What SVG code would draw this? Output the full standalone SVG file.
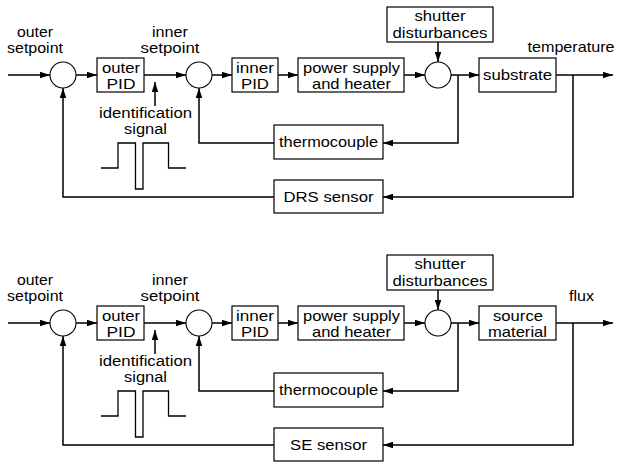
<svg xmlns="http://www.w3.org/2000/svg" width="618" height="462" viewBox="0 0 618 462">
<style>
text{font-family:"Liberation Sans",Arial,Helvetica,sans-serif;font-size:15px;fill:#000;text-anchor:middle}
.tight{font-size:14px}
.box{fill:#fff;stroke:#000;stroke-width:1.2}
.sum{fill:#fff;stroke:#000;stroke-width:1.1}
.ln{fill:none;stroke:#000;stroke-width:1.5}
.ar{fill:none;stroke:#000;stroke-width:1.5;marker-end:url(#ah)}
.pulse{fill:none;stroke:#000;stroke-width:1.3}
</style>
<defs>
<marker id="ah" markerUnits="userSpaceOnUse" markerWidth="10" markerHeight="7" refX="10" refY="3.25" orient="auto">
<path d="M0,0 L10,3.25 L0,6.5 z" fill="#000"/>
</marker>
</defs>
<rect width="618" height="462" fill="#fff"/>

<!-- ===== Top diagram ===== -->
<g id="top">
<g id="t-connectors">
<path class="ar" d="M8,75 H50"/>
<path class="ar" d="M76,75 H97"/>
<path class="ar" d="M144,75 H186"/>
<path class="ar" d="M212,75 H232"/>
<path class="ar" d="M278,75 H298"/>
<path class="ar" d="M404,75 H425"/>
<path class="ar" d="M451,75 H479"/>
<path class="ar" d="M556,75 H613"/>
<path class="ar" d="M438,42 V62"/>
<path class="ar" d="M458,75 V143 H383"/>
<path class="ar" d="M573,75 V197 H383"/>
<path class="ar" d="M274,143 H199 V88"/>
<path class="ar" d="M274,197 H63 V88"/>
<path class="ar" d="M155,106 V82"/>
</g>
<g id="t-outer-setpoint-label">
<text x="35" y="37" textLength="36" lengthAdjust="spacingAndGlyphs">outer</text>
<text x="35" y="53" textLength="56" lengthAdjust="spacingAndGlyphs">setpoint</text>
</g>
<g id="t-sum1"><circle class="sum" cx="63" cy="75" r="13"/></g>
<g id="t-outer-pid">
<rect class="box" x="97" y="58" width="47" height="34"/>
<text x="121" y="73" textLength="38" lengthAdjust="spacingAndGlyphs">outer</text>
<text x="121" y="89" textLength="29" lengthAdjust="spacingAndGlyphs">PID</text>
</g>
<g id="t-inner-setpoint-label">
<text x="170" y="37" textLength="36" lengthAdjust="spacingAndGlyphs">inner</text>
<text x="170" y="53" textLength="59" lengthAdjust="spacingAndGlyphs">setpoint</text>
</g>
<g id="t-sum2"><circle class="sum" cx="199" cy="75" r="13"/></g>
<g id="t-inner-pid">
<rect class="box" x="232" y="58" width="46" height="34"/>
<text x="255" y="73" textLength="38" lengthAdjust="spacingAndGlyphs">inner</text>
<text x="255" y="89" textLength="28" lengthAdjust="spacingAndGlyphs">PID</text>
</g>
<g id="t-power">
<rect class="box" x="298" y="58" width="106" height="34"/>
<text x="351.5" y="73" textLength="97" lengthAdjust="spacingAndGlyphs">power supply</text>
<text x="351.5" y="89" textLength="79" lengthAdjust="spacingAndGlyphs">and heater</text>
</g>
<g id="t-shutter">
<rect class="box" x="387" y="7" width="106" height="35"/>
<text class="tight" x="440" y="21" textLength="51" lengthAdjust="spacingAndGlyphs">shutter</text>
<text class="tight" x="440" y="37.5" textLength="95" lengthAdjust="spacingAndGlyphs">disturbances</text>
</g>
<g id="t-sum3"><circle class="sum" cx="438" cy="75" r="13"/></g>
<g id="t-substrate">
<rect class="box" x="479" y="58" width="77" height="34"/>
<text x="517.5" y="80" textLength="69" lengthAdjust="spacingAndGlyphs">substrate</text>
</g>
<g id="t-output-label">
<text x="571" y="52" textLength="87" lengthAdjust="spacingAndGlyphs">temperature</text>
</g>
<g id="t-thermocouple">
<rect class="box" x="274" y="125" width="109" height="34"/>
<text x="328.5" y="147" textLength="99" lengthAdjust="spacingAndGlyphs">thermocouple</text>
</g>
<g id="t-drs">
<rect class="box" x="274" y="180" width="109" height="33"/>
<text x="328.5" y="202" textLength="90" lengthAdjust="spacingAndGlyphs">DRS sensor</text>
</g>
<g id="t-identification">
<text class="tight" x="145.5" y="117.5" textLength="93" lengthAdjust="spacingAndGlyphs">identification</text>
<text class="tight" x="145.5" y="133.5" textLength="43" lengthAdjust="spacingAndGlyphs">signal</text>
<path class="pulse" d="M101,168 H118 V143 H135.5 V189 H143 V143 H168.5 V168 H186"/>
</g>
</g>

<!-- ===== Bottom diagram ===== -->
<g id="bottom" transform="translate(0,248)">
<g id="b-connectors">
<path class="ar" d="M8,75 H50"/>
<path class="ar" d="M76,75 H97"/>
<path class="ar" d="M144,75 H186"/>
<path class="ar" d="M212,75 H232"/>
<path class="ar" d="M278,75 H298"/>
<path class="ar" d="M404,75 H425"/>
<path class="ar" d="M451,75 H479"/>
<path class="ar" d="M556,75 H613"/>
<path class="ar" d="M438,42 V62"/>
<path class="ar" d="M458,75 V143 H383"/>
<path class="ar" d="M573,75 V197 H383"/>
<path class="ar" d="M274,143 H199 V88"/>
<path class="ar" d="M274,197 H63 V88"/>
<path class="ar" d="M155,106 V82"/>
</g>
<g id="b-outer-setpoint-label">
<text x="35" y="37" textLength="36" lengthAdjust="spacingAndGlyphs">outer</text>
<text x="35" y="53" textLength="56" lengthAdjust="spacingAndGlyphs">setpoint</text>
</g>
<g id="b-sum1"><circle class="sum" cx="63" cy="75" r="13"/></g>
<g id="b-outer-pid">
<rect class="box" x="97" y="58" width="47" height="34"/>
<text x="121" y="73" textLength="38" lengthAdjust="spacingAndGlyphs">outer</text>
<text x="121" y="89" textLength="29" lengthAdjust="spacingAndGlyphs">PID</text>
</g>
<g id="b-inner-setpoint-label">
<text x="170" y="37" textLength="36" lengthAdjust="spacingAndGlyphs">inner</text>
<text x="170" y="53" textLength="59" lengthAdjust="spacingAndGlyphs">setpoint</text>
</g>
<g id="b-sum2"><circle class="sum" cx="199" cy="75" r="13"/></g>
<g id="b-inner-pid">
<rect class="box" x="232" y="58" width="46" height="34"/>
<text x="255" y="73" textLength="38" lengthAdjust="spacingAndGlyphs">inner</text>
<text x="255" y="89" textLength="28" lengthAdjust="spacingAndGlyphs">PID</text>
</g>
<g id="b-power">
<rect class="box" x="298" y="58" width="106" height="34"/>
<text x="351.5" y="73" textLength="97" lengthAdjust="spacingAndGlyphs">power supply</text>
<text x="351.5" y="89" textLength="79" lengthAdjust="spacingAndGlyphs">and heater</text>
</g>
<g id="b-shutter">
<rect class="box" x="387" y="7" width="106" height="35"/>
<text class="tight" x="440" y="21" textLength="51" lengthAdjust="spacingAndGlyphs">shutter</text>
<text class="tight" x="440" y="37.5" textLength="95" lengthAdjust="spacingAndGlyphs">disturbances</text>
</g>
<g id="b-sum3"><circle class="sum" cx="438" cy="75" r="13"/></g>
<g id="b-source-material">
<rect class="box" x="479" y="58" width="77" height="34"/>
<text x="518" y="73" textLength="50" lengthAdjust="spacingAndGlyphs">source</text>
<text x="517.5" y="89" textLength="59" lengthAdjust="spacingAndGlyphs">material</text>
</g>
<g id="b-output-label">
<text x="581.5" y="53" textLength="25" lengthAdjust="spacingAndGlyphs">flux</text>
</g>
<g id="b-thermocouple">
<rect class="box" x="274" y="125" width="109" height="34"/>
<text x="328.5" y="147" textLength="99" lengthAdjust="spacingAndGlyphs">thermocouple</text>
</g>
<g id="b-se">
<rect class="box" x="274" y="180" width="109" height="33"/>
<text x="328.5" y="202" textLength="77" lengthAdjust="spacingAndGlyphs">SE sensor</text>
</g>
<g id="b-identification">
<text class="tight" x="145.5" y="117.5" textLength="93" lengthAdjust="spacingAndGlyphs">identification</text>
<text class="tight" x="145.5" y="133.5" textLength="43" lengthAdjust="spacingAndGlyphs">signal</text>
<path class="pulse" d="M101,168 H118 V143 H135.5 V189 H143 V143 H168.5 V168 H186"/>
</g>
</g>
</svg>
